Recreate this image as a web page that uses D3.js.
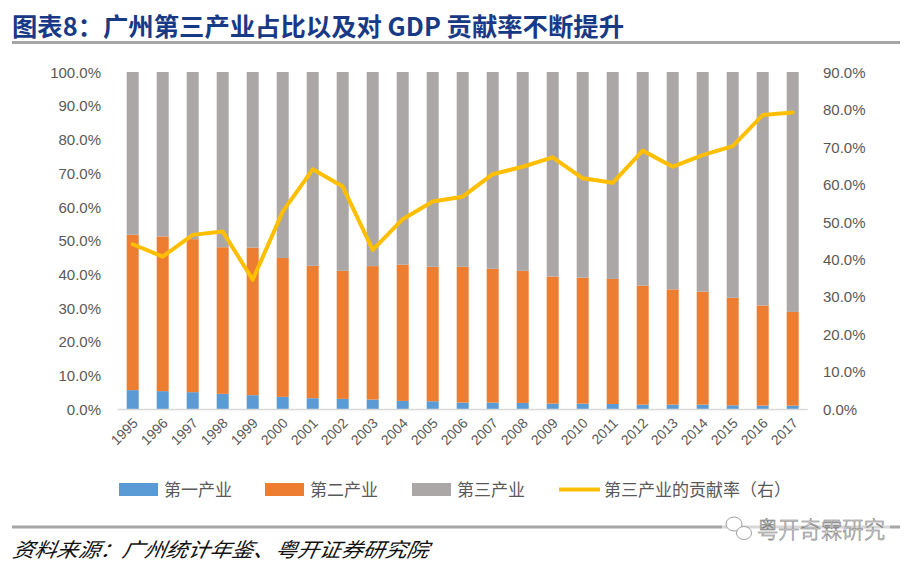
<!DOCTYPE html>
<html><head><meta charset="utf-8">
<script src="https://cdn.jsdelivr.net/npm/d3@7"></script>
<style>body{margin:0;background:#fff;}svg{display:block;}</style>
</head><body>
<svg id="c" width="914" height="571"></svg>
<script>
const years = ["1995","1996","1997","1998","1999","2000","2001","2002","2003","2004","2005","2006","2007","2008","2009","2010","2011","2012","2013","2014","2015","2016","2017"];
const primary = [5.6,5.3,5.0,4.5,4.1,3.6,3.2,3.0,2.8,2.4,2.3,1.9,1.9,1.8,1.6,1.6,1.5,1.3,1.3,1.3,1.1,1.0,1.0];
const secondary = [46.1,45.9,45.4,43.5,43.8,41.2,39.3,38.0,39.6,40.4,39.9,40.3,39.7,39.2,37.7,37.4,37.1,35.3,34.2,33.5,31.9,29.7,27.8];
const tertiary = [48.3,48.8,49.6,52.0,52.1,55.2,57.5,59.0,57.6,57.2,57.8,57.8,58.4,59.0,60.7,61.0,61.4,63.4,64.5,65.2,67.0,69.3,71.2];
const contribution = [44.0,40.7,46.5,47.4,34.5,52.7,64.0,59.4,42.5,50.7,55.4,56.7,62.7,64.7,67.2,61.6,60.4,69.0,64.7,67.8,70.2,78.5,79.2];
const leftTicks = [0,10,20,30,40,50,60,70,80,90,100];
const rightTicks = [0,10,20,30,40,50,60,70,80,90];
const seriesNames = ["第一产业","第二产业","第三产业"];
const lineName = "第三产业的贡献率（右）";
const titleText = "图表8：广州第三产业占比以及对 GDP 贡献率不断提升";
const sourceText = "资料来源：广州统计年鉴、粤开证券研究院";
const watermarkText = "粤开奇霖研究";

const colors = ["#5b9bd5","#ed7d31","#aba7a7"];
const lineColor = "#ffbf00";
const svg = d3.select("#c");
const plotTop = 72, plotBottom = 409, plotLeft = 117.7, plotRight = 807.7;

const x = d3.scaleBand().domain(years).range([plotLeft,plotRight]).paddingInner(0.6).paddingOuter(0.3);
const yL = d3.scaleLinear().domain([0,100]).range([plotBottom,plotTop]);
const yR = d3.scaleLinear().domain([0,90]).range([plotBottom,plotTop]);

// title
svg.append("text").attr("x",12).attr("y",36).attr("font-family","'Noto Sans CJK SC'").attr("font-weight","bold")
  .attr("font-size",25).attr("fill","#183a86").attr("textLength",612).attr("lengthAdjust","spacingAndGlyphs").text(titleText);
svg.append("line").attr("x1",12).attr("x2",900).attr("y1",42.5).attr("y2",42.5).attr("stroke","#a6a6a6").attr("stroke-width",3);

// stacked data
const rows = years.map((yr,i)=>({year:yr, p:primary[i], s:secondary[i], t:tertiary[i]}));
const stack = d3.stack().keys(["p","s","t"])(rows);
const g = svg.append("g");
stack.forEach((layer,k)=>{
  g.selectAll(null).data(layer).enter().append("rect")
    .attr("x",d=>x(d.data.year)).attr("width",x.bandwidth())
    .attr("y",d=>yL(Math.min(d[1],100))).attr("height",d=>yL(d[0])-yL(Math.min(d[1],100)))
    .attr("fill",colors[k]);
});

// axis baseline
svg.append("line").attr("x1",plotLeft).attr("x2",plotRight).attr("y1",plotBottom+0.5).attr("y2",plotBottom+0.5).attr("stroke","#d9d9d9").attr("stroke-width",1.5);

// left axis
const fmt = d=>d.toFixed(1)+"%";
const la = svg.append("g").attr("transform",`translate(101,0)`)
  .call(d3.axisLeft(yL).tickValues(leftTicks).tickFormat(fmt).tickSize(0).tickPadding(0));
la.select(".domain").remove();
la.selectAll("text").attr("font-family","'Liberation Sans', Arial").attr("font-size",15).attr("fill","#595959").attr("dy","0.35em");

const ra = svg.append("g").attr("transform",`translate(823,0)`)
  .call(d3.axisRight(yR).tickValues(rightTicks).tickFormat(fmt).tickSize(0).tickPadding(0));
ra.select(".domain").remove();
ra.selectAll("text").attr("font-family","'Liberation Sans', Arial").attr("font-size",15).attr("fill","#595959").attr("dy","0.35em");

// x axis labels
const xa = svg.append("g").attr("transform",`translate(0,${plotBottom})`)
  .call(d3.axisBottom(x).tickSize(0).tickPadding(0));
xa.select(".domain").remove();
xa.selectAll("text").attr("font-family","'Liberation Sans', Arial").attr("font-size",14).attr("fill","#595959")
  .attr("text-anchor","end").attr("dy",0).attr("y",0)
  .attr("transform","translate(6,15) rotate(-45)");

// line
const line = d3.line().x((d,i)=>x(years[i])+x.bandwidth()/2).y(d=>yR(d));
svg.append("path").datum(contribution).attr("d",line).attr("fill","none")
  .attr("stroke",lineColor).attr("stroke-width",4).attr("stroke-linejoin","round").attr("stroke-linecap","round");

// legend
const lg = svg.append("g");
const legX = [119,265,412];
seriesNames.forEach((n,i)=>{
  lg.append("rect").attr("x",legX[i]).attr("y",483).attr("width",39).attr("height",13).attr("fill",colors[i]);
  lg.append("text").attr("x",legX[i]+45).attr("y",495.5).attr("font-family","'Noto Sans CJK SC'").attr("font-size",17).attr("fill","#595959").text(n);
});
lg.append("line").attr("x1",559).attr("x2",600).attr("y1",489.5).attr("y2",489.5).attr("stroke",lineColor).attr("stroke-width",4);
lg.append("text").attr("x",604).attr("y",495.5).attr("font-family","'Noto Sans CJK SC'").attr("font-size",17).attr("fill","#595959").text(lineName);

// footer
svg.append("line").attr("x1",12).attr("x2",900).attr("y1",527).attr("y2",527).attr("stroke","#a6a6a6").attr("stroke-width",3);
svg.append("rect").attr("x",722).attr("y",512).attr("width",168).attr("height",34).attr("fill","#fff").attr("opacity",0.55);
svg.append("ellipse").attr("cx",734).attr("cy",524).attr("rx",8).attr("ry",7).attr("fill","#fff").attr("stroke","#a0a0a0").attr("stroke-width",1);
svg.append("ellipse").attr("cx",744).attr("cy",533).attr("rx",7.5).attr("ry",6.5).attr("fill","#fff").attr("stroke","#a0a0a0").attr("stroke-width",1);
svg.append("text").attr("x",757).attr("y",538).attr("font-family","'Noto Sans CJK SC'").attr("font-weight",300).attr("font-size",23).attr("fill","#fff")
  .attr("stroke","#7a7a7a").attr("stroke-width",0.6).attr("textLength",128).attr("lengthAdjust","spacingAndGlyphs").text(watermarkText);
svg.append("text").attr("x",12).attr("y",557).attr("font-family","'Noto Sans CJK SC'").attr("font-style","italic").attr("font-size",20)
  .attr("fill","#111").attr("textLength",416).attr("lengthAdjust","spacingAndGlyphs")
  .attr("transform","skewX(-10) translate(98,0)").text(sourceText);
</script>
</body></html>
